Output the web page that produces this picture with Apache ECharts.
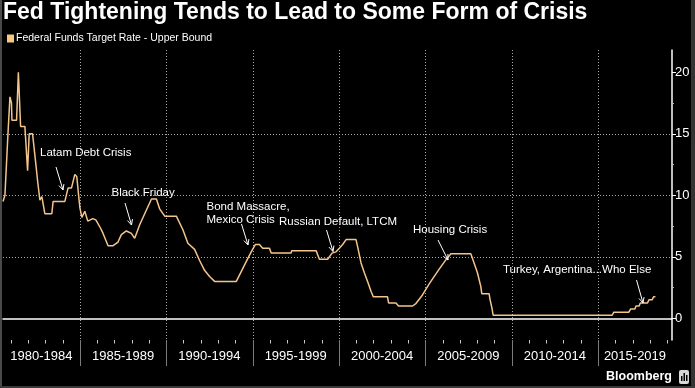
<!DOCTYPE html>
<html><head><meta charset="utf-8">
<script src="https://cdn.jsdelivr.net/npm/echarts@6/dist/echarts.min.js"></script>
<style>html,body{margin:0;padding:0;background:#000;}#c{width:695px;height:388px;}</style>
</head><body><div id="c"></div>
<script>
// ---- data ----
const dates = ['1980-07-20','1980-08-30','1980-11-02','1980-12-14','1981-01-15','1981-01-25','1981-05-03','1981-06-10','1981-07-27','1981-10-26','1981-12-22','1982-01-25','1982-04-06','1982-05-24','1982-07-27','1982-09-08','1982-10-20','1982-12-22','1983-05-18','1983-06-15','1984-02-18','1984-04-27','1984-07-08','1984-09-16','1984-10-28','1984-12-10','1985-01-01','1985-02-12','1985-04-15','1985-06-17','1985-10-01','1985-12-04','1986-03-18','1986-05-06','1986-08-20','1986-12-04','1987-03-18','1987-05-28','1987-09-12','1987-10-15','1987-12-26','1988-03-05','1988-06-19','1988-10-03','1989-02-23','1989-06-07','1989-08-15','1989-11-30','1990-08-03','1990-12-20','1991-04-04','1991-08-24','1991-12-08','1992-03-22','1992-07-06','1992-10-20','1994-01-22','1994-05-06','1994-08-20','1994-12-04','1995-03-03','1995-05-26','1995-08-04','1995-12-25','1996-01-30','1997-03-26','1997-04-08','1998-09-06','1998-11-15','1999-05-08','1999-08-09','1999-11-02','2000-01-11','2000-03-20','2000-06-01','2000-12-28','2001-02-01','2001-04-13','2001-06-22','2001-08-30','2001-11-10','2001-12-28','2002-10-26','2002-11-16','2003-04-22','2003-06-15','2004-04-06','2004-06-17','2004-11-03','2005-03-25','2005-10-22','2006-03-12','2006-06-27','2007-08-22','2007-10-30','2008-01-09','2008-03-20','2008-04-10','2008-09-12','2008-10-03','2008-11-07','2008-12-06','2015-10-29','2015-12-04','2016-10-16','2016-11-20','2017-02-20','2017-03-16','2017-05-20','2017-06-15','2017-11-15','2017-12-14','2018-02-20','2018-03-22','2018-05-01'];
const rates = [9.5,10,15,18,17.5,16.1,16.1,20,15.6,15.6,12,15,15,13.3,11,9.6,9.9,8.5,8.5,9.5,9.5,10.6,10.6,11.7,11.5,9.8,9.0,8.2,8.7,7.9,8.1,8.0,7.3,6.9,5.9,5.9,6.2,6.8,7.1,7.2,6.9,6.5,7.6,8.5,9.7,9.7,8.9,8.3,8.3,7.2,6.1,5.6,4.7,3.9,3.4,3.0,3.0,3.8,4.6,5.4,6.0,6.0,5.7,5.7,5.3,5.3,5.5,5.5,4.8,4.8,5.3,5.4,5.7,6.0,6.4,6.4,5.8,4.5,3.7,3.0,2.2,1.75,1.75,1.25,1.25,1.0,1.0,1.2,1.9,2.8,4.0,4.75,5.25,5.25,4.5,3.7,2.6,2.0,2.0,1.5,0.9,0.25,0.25,0.5,0.5,0.75,0.75,1.0,1.0,1.25,1.25,1.5,1.5,1.75,1.75];
const periodLabels = ['1980-1984','1985-1989','1990-1994','1995-1999','2000-2004','2005-2009','2010-2014','2015-2019'];
const periodStarts = ['1980-01-01','1985-01-01','1990-01-01','1995-01-01','2000-01-01','2005-01-01','2010-01-01','2015-01-01','2020-01-01'];
const yTickLabels = [0,5,10,15,20];
const yMinorTicks = [2.5,7.5,12.5,17.5];
const seriesName = 'Federal Funds Target Rate - Upper Bound';
const titleText = 'Fed Tightening Tends to Lead to Some Form of Crisis';
const notes = [
  {text:'Latam Debt Crisis', x:40, y:153, a:[56,167,63,190]},
  {text:'Black Friday', x:111.5, y:193, a:[125,203,131.5,225]},
  {text:'Bond Massacre,\nMexico Crisis', x:206.5, y:213.5, a:[241.5,224,248,245]},
  {text:'Russian Default, LTCM', x:279, y:222, a:[326.5,230,333,251.5]},
  {text:'Housing Crisis', x:413, y:230, a:[438,240,448,260]},
  {text:'Turkey, Argentina...Who Else', x:503, y:270, a:[636.5,280,643,303]}
];

// ---- layout ----
const ts = s => +new Date(s + 'T00:00:00Z');
const xMin = ts('1980-07-20'), xMax = ts('2019-04-16');
const yMin = -1.764, yMax = 21.81;
const yearTicks = [];
for (let y = 1981; y <= 2019; y++) yearTicks.push(ts(y + '-01-01'));
const bounds = periodStarts.map(ts);
const inner = bounds.slice(1, 8);
const labelPos = periodLabels.map((l, i) => (Math.max(bounds[i], xMin) + Math.min(bounds[i + 1], xMax)) / 2);
const font = 'Liberation Sans';
const gridColor = '#a8a8a8';
const dotted = {color:gridColor, type:[1,2], width:1};

const graphics = [];
notes.forEach(n => {
  graphics.push({type:'text', z:10, x:n.x, y:n.y, style:{text:n.text, fill:'#fff', font:'11.5px "Liberation Sans"', verticalAlign:'middle', lineHeight:13.5}});
  const [x1,y1,x2,y2] = n.a;
  const ang = Math.atan2(y2-y1, x2-x1), L = 6, w = 0.45;
  graphics.push({type:'line', z:10, shape:{x1,y1,x2,y2}, style:{stroke:'#fff', lineWidth:1}});
  graphics.push({type:'polyline', z:10, shape:{points:[[x2-L*Math.cos(ang-w), y2-L*Math.sin(ang-w)],[x2,y2],[x2-L*Math.cos(ang+w), y2-L*Math.sin(ang+w)]]}, style:{stroke:'#fff', lineWidth:1, fill:null}});
});
graphics.push({type:'text', x:672, y:377, style:{text:'Bloomberg', fill:'#fff', font:'bold 12.5px "Liberation Sans"', align:'right', verticalAlign:'middle'}});
graphics.push({type:'rect', shape:{x:679, y:370, width:10, height:14, r:2}, style:{fill:'#d8d8d8'}});
graphics.push({type:'rect', shape:{x:681, y:376, width:1.5, height:5}, style:{fill:'#000'}});
graphics.push({type:'rect', shape:{x:683.5, y:373, width:1.5, height:8}, style:{fill:'#000'}});
graphics.push({type:'rect', shape:{x:686, y:375, width:1.5, height:6}, style:{fill:'#000'}});
graphics.push({type:'rect', shape:{x:0, y:0, width:2, height:388}, style:{fill:'#4a4a4a'}});
graphics.push({type:'rect', shape:{x:691, y:0, width:4, height:388}, style:{fill:'#333'}});
graphics.push({type:'rect', shape:{x:0, y:386, width:695, height:2}, style:{fill:'#3a3a3a'}});

const chart = echarts.init(document.getElementById('c'));
chart.setOption({
  backgroundColor:'#000',
  animation:false,
  title:{text:titleText, left:3, top:1, padding:0, textStyle:{color:'#fff', fontSize:23, fontWeight:'bold', fontFamily:font}},
  legend:{left:7, top:33, padding:0, icon:'rect', itemWidth:7, itemHeight:8, itemGap:10,
    textStyle:{color:'#fff', fontSize:10.5, fontFamily:font, padding:[0,0,0,-3]}},
  grid:{left:3, right:23, top:50, bottom:48, containLabel:false},
  xAxis:[
    {type:'value', min:xMin, max:xMax, position:'bottom', scale:true,
     axisLine:{show:true, lineStyle:{color:'#fff', width:1.5}},
     axisTick:{show:false}, axisLabel:{show:false}, splitLine:{show:false}},
    {type:'value', min:xMin, max:xMax, position:'bottom', scale:true,
     axisLine:{show:false}, axisTick:{show:false},
     axisLabel:{show:true, customValues:labelPos, color:'#fff', fontSize:13, fontFamily:font, margin:10,
       formatter:v => { let b=0, d=Infinity; labelPos.forEach((p,i)=>{ if (Math.abs(p-v)<d){d=Math.abs(p-v); b=i;} }); return periodLabels[b]; }},
     splitLine:{show:false}}
  ],
  yAxis:[
    {type:'value', position:'right', min:yMin, max:yMax,
     axisLine:{show:true, lineStyle:{color:'#fff', width:1.5}},
     axisTick:{show:true, customValues:yTickLabels, length:4, lineStyle:{color:'#fff'}},
     axisLabel:{customValues:yTickLabels, color:'#fff', fontSize:13, fontFamily:font, margin:3},
     splitLine:{show:true, showMinLine:false, showMaxLine:false, lineStyle:dotted}},
    {type:'value', position:'right', min:yMin, max:yMax,
     axisLine:{show:false},
     axisTick:{show:true, customValues:yMinorTicks, length:2, lineStyle:{color:'#bbb'}},
     axisLabel:{show:false}, splitLine:{show:false}}
  ],
  series:[{name:seriesName, type:'line', xAxisIndex:0, yAxisIndex:0, showSymbol:false, z:3,
    data:dates.map((d,i)=>[ts(d), rates[i]]),
    lineStyle:{color:'#f3c58c', width:1.5}, itemStyle:{color:'#f5c87e'}}],
  graphic:graphics
});

// ticks and dotted vertical grid along the time axis, placed through the axis scale
const baseY = chart.convertToPixel({yAxisIndex:0}, yMin);
const topY = chart.convertToPixel({yAxisIndex:0}, yMax);
const tickEls = [];
yearTicks.forEach(v => {
  const x = Math.round(chart.convertToPixel({xAxisIndex:0}, v)) + 0.5;
  tickEls.push({type:'line', z:1, shape:{x1:x, y1:baseY, x2:x, y2:baseY + 3.5}, style:{stroke:'#c8c8c8', lineWidth:1}});
});
inner.forEach(v => {
  const x = Math.round(chart.convertToPixel({xAxisIndex:0}, v)) + 0.5;
  tickEls.push({type:'line', z:1, shape:{x1:x, y1:baseY, x2:x, y2:baseY + 26}, style:{stroke:'#7a7a7a', lineWidth:1}});
  for (let y = Math.round(topY); y < baseY - 1; y += 3) {
    tickEls.push({type:'rect', z:1, shape:{x:x - 0.5, y:y, width:1, height:1}, style:{fill:gridColor}});
  }
});
chart.setOption({graphic: graphics.concat(tickEls)});
</script></body></html>
